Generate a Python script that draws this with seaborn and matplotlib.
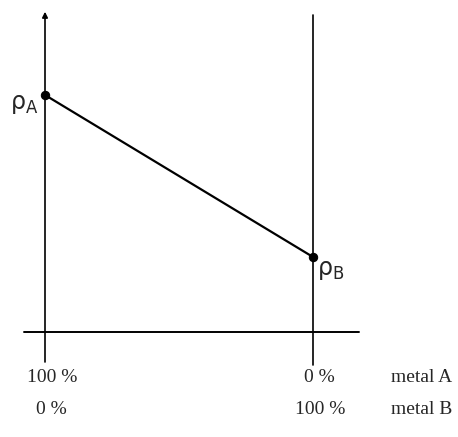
import matplotlib
matplotlib.use('Agg')
import matplotlib.pyplot as plt
import seaborn as sns
import pandas as pd

# composition (fraction of metal B) and density
composition = [0.0, 1.0]
density = [3.16, 1.0]
point_labels = [r'$\mathrm{\rho}_{\mathrm{A}}$', r'$\mathrm{\rho}_{\mathrm{B}}$']
row_a = ['100 %', '0 %']
row_b = ['0 %', '100 %']
row_names = ['metal A', 'metal B']

sns.set_style('white')
plt.rcParams['mathtext.fontset'] = 'dejavusans'

df = pd.DataFrame({'x': composition, 'rho': density})

fig = plt.figure(figsize=(4.58, 4.37), dpi=100)
ax = fig.add_axes([0, 0, 1, 1])
ax.set_xlim(-45 / 268, 413 / 268)
ax.set_ylim(-105 / 75, 332 / 75)
ax.axis('off')

# axes drawn by hand
ax.annotate('', xy=(0, 4.27), xytext=(0, -0.4),
            arrowprops=dict(arrowstyle='-|>', lw=1.2, color='black',
                            mutation_scale=8, shrinkA=0, shrinkB=0))
ax.plot([1, 1], [-0.44, 4.23], color='black', lw=1.2)
ax.plot([-0.078, 1.172], [0, 0], color='black', lw=1.4)

sns.lineplot(data=df, x='x', y='rho', ax=ax, color='black', lw=1.6,
             marker='o', markersize=6, markeredgecolor='black')

ax.text(-0.025, density[0] - 0.12, point_labels[0], ha='right', va='center',
        fontsize=17)
ax.text(1.015, density[1] - 0.17, point_labels[1], ha='left', va='center',
        fontsize=17)

serif = {'family': 'Liberation Serif', 'size': 14}
ya = -(378 - 332) / 75
yb = -(409 - 332) / 75
for x, a, b in zip(composition, row_a, row_b):
    ax.text(x + 0.025, ya, a, ha='center', va='center', fontdict=serif)
    ax.text(x + 0.025, yb, b, ha='center', va='center', fontdict=serif)
ax.text(346 / 268, ya, row_names[0], ha='left', va='center', fontdict=serif)
ax.text(346 / 268, yb, row_names[1], ha='left', va='center', fontdict=serif)

fig.savefig('out.png', dpi=100)
